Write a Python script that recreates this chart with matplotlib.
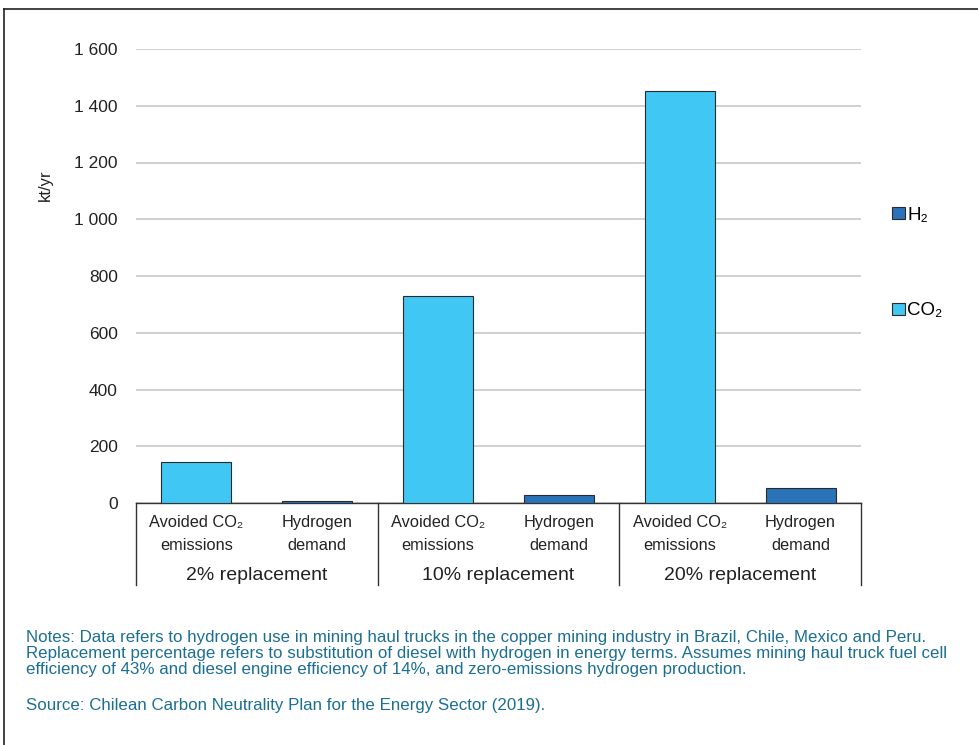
import matplotlib
matplotlib.use("Agg")
import matplotlib.pyplot as plt
from matplotlib.lines import Line2D
from matplotlib.transforms import blended_transform_factory
import numpy as np

plt.rcParams["font.family"] = ["Liberation Sans", "DejaVu Sans"]

# data (kt/yr)
groups = ["2% replacement", "10% replacement", "20% replacement"]
categories = ["Avoided CO₂\nemissions", "Hydrogen\ndemand"]
co2_avoided = [145, 730, 1452]
h2_demand = [6, 28, 53]
yticks = [0, 200, 400, 600, 800, 1000, 1200, 1400, 1600]

W, H = 979, 745
fig = plt.figure(figsize=(W / 100, H / 100), dpi=100)
ax = fig.add_axes([136 / W, 1 - 503 / H, (861 - 136) / W, (503 - 49) / H])

C_CO2 = "#41c7f3"
C_H2 = "#2b73b9"
EDGE = "#2a2a2a"

n = len(groups)
x_co2 = np.arange(n) * 2
x_h2 = np.arange(n) * 2 + 1
w = 0.58
ax.bar(x_h2, h2_demand, w, color=C_H2, edgecolor=EDGE, lw=0.8, label="H₂", zorder=3)
ax.bar(x_co2, co2_avoided, w, color=C_CO2, edgecolor=EDGE, lw=0.8, label="CO₂", zorder=3)

ax.set_xlim(-0.5, 2 * n - 0.5)
ax.set_ylim(0, 1600)
ax.set_yticks(yticks)
ax.set_yticklabels([f"{v:,}".replace(",", " ") for v in yticks], fontsize=12.5, color="#222")
ax.yaxis.grid(True, color="#c8c8c8", lw=1.2, zorder=0)
ax.tick_params(axis="y", length=0, pad=13)
ax.set_ylabel("kt/yr", fontsize=12, color="#222")
ax.yaxis.set_label_coords(-0.114, 0.70)
for s in ["top", "right", "left"]:
    ax.spines[s].set_visible(False)
ax.spines["bottom"].set_color("#333")
ax.spines["bottom"].set_linewidth(1.0)

ax.set_xticks(np.arange(2 * n))
ax.set_xticklabels(categories * n, fontsize=11.8, color="#222", linespacing=1.65)
ax.tick_params(axis="x", length=0, pad=9)

# group labels and separators
tr = blended_transform_factory(ax.transData, ax.transAxes)
for i, g in enumerate(groups):
    ax.text(2 * i + 0.5, -0.16, g, transform=tr, ha="center", va="center",
            fontsize=14, color="#222")
for i in range(n + 1):
    ax.plot([2 * i - 0.5, 2 * i - 0.5], [0, -0.18], transform=tr, color="#333",
            lw=1.0, clip_on=False)

leg = ax.legend(loc="upper left", bbox_to_anchor=(1.02, 0.69), frameon=False,
                fontsize=13.5, handlelength=0.65, handleheight=0.65, handletextpad=0.15,
                labelspacing=4.2)

# notes
NOTE = "#1b6f93"
notes = ("Notes: Data refers to hydrogen use in mining haul trucks in the copper mining industry in Brazil, Chile, Mexico and Peru.\n"
         "Replacement percentage refers to substitution of diesel with hydrogen in energy terms. Assumes mining haul truck fuel cell\n"
         "efficiency of 43% and diesel engine efficiency of 14%, and zero-emissions hydrogen production.")
fig.text(26 / W, 1 - 630 / H, notes, fontsize=12.2, color=NOTE, va="top", ha="left", linespacing=1.08)
fig.text(26 / W, 1 - 698 / H, "Source: Chilean Carbon Neutrality Plan for the Energy Sector (2019).",
         fontsize=12.2, color=NOTE, va="top", ha="left")

# frame lines
fig.add_artist(Line2D([4 / W, 1], [1 - 9 / H, 1 - 9 / H], color="#222", lw=1.2))
fig.add_artist(Line2D([4 / W, 4 / W], [0, 1 - 9 / H], color="#222", lw=1.2))

fig.savefig("out.png", dpi=100)
